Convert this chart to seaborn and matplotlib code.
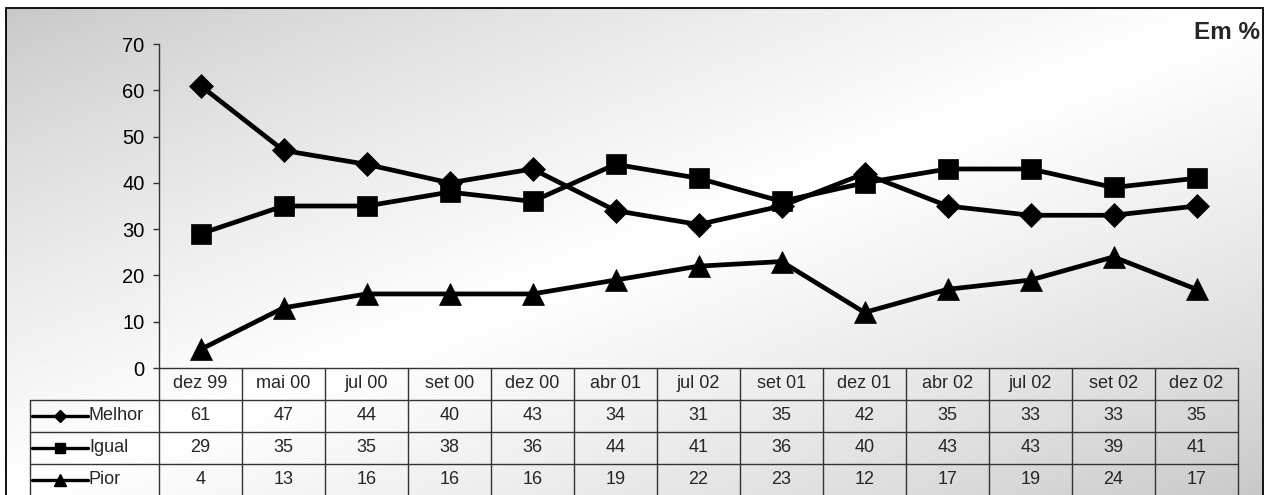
import numpy as np
import pandas as pd
import matplotlib
matplotlib.use("Agg")
import matplotlib.pyplot as plt
import seaborn as sns
from matplotlib.lines import Line2D
from matplotlib.patches import Rectangle

# ---------------- data ----------------
periods = ["dez 99", "mai 00", "jul 00", "set 00", "dez 00", "abr 01", "jul 02",
           "set 01", "dez 01", "abr 02", "jul 02", "set 02", "dez 02"]
melhor = [61, 47, 44, 40, 43, 34, 31, 35, 42, 35, 33, 33, 35]
igual = [29, 35, 35, 38, 36, 44, 41, 36, 40, 43, 43, 39, 41]
pior = [4, 13, 16, 16, 16, 19, 22, 23, 12, 17, 19, 24, 17]
series_names = ["Melhor", "Igual", "Pior"]
y_ticks = [0, 10, 20, 30, 40, 50, 60, 70]
unit_label = "Em %"

# ---------------- style ----------------
sns.set_theme(style="ticks")
plt.rcParams["font.family"] = ["Liberation Sans", "DejaVu Sans"]

W, H = 1271, 495
fig = plt.figure(figsize=(W / 100, H / 100), dpi=100)
fig.patch.set_facecolor("white")

# background gradient panel
bg = fig.add_axes([6 / W, 0, (1263 - 6) / W, (H - 8) / H])
gx = np.linspace(0, 1, 500)
gy = np.linspace(0, 1, 250)
X, Y = np.meshgrid(gx, gy)
t = (X + Y) / 2
v = 0.78 + 0.22 * (1 - np.abs(2 * t - 1)) ** 0.8
bg.imshow(v, cmap="gray", vmin=0, vmax=1, aspect="auto",
          extent=[0, 1, 1, 0], interpolation="bilinear")
bg.set_axis_off()
fig.add_artist(Rectangle((6 / W, -0.02), (1263 - 6) / W, (H - 8) / H + 0.02,
                         transform=fig.transFigure, fill=False,
                         edgecolor="black", lw=1.3))

# ---------------- main chart ----------------
df = pd.DataFrame({"pos": np.arange(len(periods)),
                   "Melhor": melhor, "Igual": igual, "Pior": pior})
long = df.melt(id_vars="pos", var_name="serie", value_name="valor")

ax = fig.add_axes([159 / W, (H - 368) / H, (1238 - 159) / W, (368 - 44) / H])
ax.patch.set_alpha(0)

markers = {"Melhor": "D", "Igual": "s", "Pior": "^"}
msizes = {"Melhor": 12, "Igual": 14.5, "Pior": 16}
for name in series_names:
    sns.lineplot(data=long[long["serie"] == name], x="pos", y="valor",
                 color="black", lw=3.4, marker=markers[name],
                 markersize=msizes[name], markeredgecolor="black",
                 markerfacecolor="black", markeredgewidth=0.5,
                 ax=ax, clip_on=False, zorder=3)

ax.set_xlim(-0.5, len(periods) - 0.5)
ax.set_ylim(0, 70)
ax.set_yticks(y_ticks)
ax.set_xticks([])
ax.set_xlabel("")
ax.set_ylabel("")
for s in ["top", "right", "bottom"]:
    ax.spines[s].set_visible(False)
ax.spines["left"].set_color("#333333")
ax.spines["left"].set_linewidth(1.0)
ax.tick_params(axis="y", length=4.5, width=1, color="#333333", pad=6,
               labelsize=14.5, labelcolor="black", left=True)

# ---------------- data table ----------------
col_w = (1238 - 159) / len(periods)
L = (159 - 30) / col_w
n = len(periods)
axt = fig.add_axes([30 / W, (H - 496) / H, (1238 - 30) / W, 128 / H])
axt.set_xlim(-L, n)
axt.set_ylim(4, 0)
axt.set_axis_off()
axt.patch.set_alpha(0)

lc = "#333333"
axt.plot([0, n], [0, 0], color=lc, lw=1, clip_on=False)
for r in [1, 2, 3, 4]:
    axt.plot([-L, n], [r, r], color=lc, lw=1, clip_on=False)
for c in range(n + 1):
    axt.plot([c, c], [0, 4], color=lc, lw=1, clip_on=False)
axt.plot([-L, -L], [1, 4], color=lc, lw=1, clip_on=False)

fs = 13
for i, p in enumerate(periods):
    axt.text(i + 0.5, 0.5, p, ha="center", va="center", fontsize=fs)

rows = [melhor, igual, pior]
key_ms = {"Melhor": 6, "Igual": 7, "Pior": 8}
for r, (name, vals) in enumerate(zip(series_names, rows), start=1):
    for i, val in enumerate(vals):
        axt.text(i + 0.5, r + 0.5, str(val), ha="center", va="center",
                 fontsize=fs)
    x0 = -L + 2 / col_w
    x1 = -L + 58 / col_w
    axt.add_line(Line2D([x0, x1], [r + 0.5, r + 0.5], color="black", lw=2.4,
                        clip_on=False))
    axt.add_line(Line2D([(x0 + x1) / 2], [r + 0.5], color="black",
                        marker=markers[name], markersize=key_ms[name],
                        markeredgecolor="black", clip_on=False))
    axt.text(-L + 59 / col_w, r + 0.5, name, ha="left", va="center",
             fontsize=fs)

fig.text(1260 / W, 1 - 21 / H, unit_label, ha="right", va="top",
         fontsize=17.5, fontweight="bold")

fig.savefig("out.png", dpi=100)
